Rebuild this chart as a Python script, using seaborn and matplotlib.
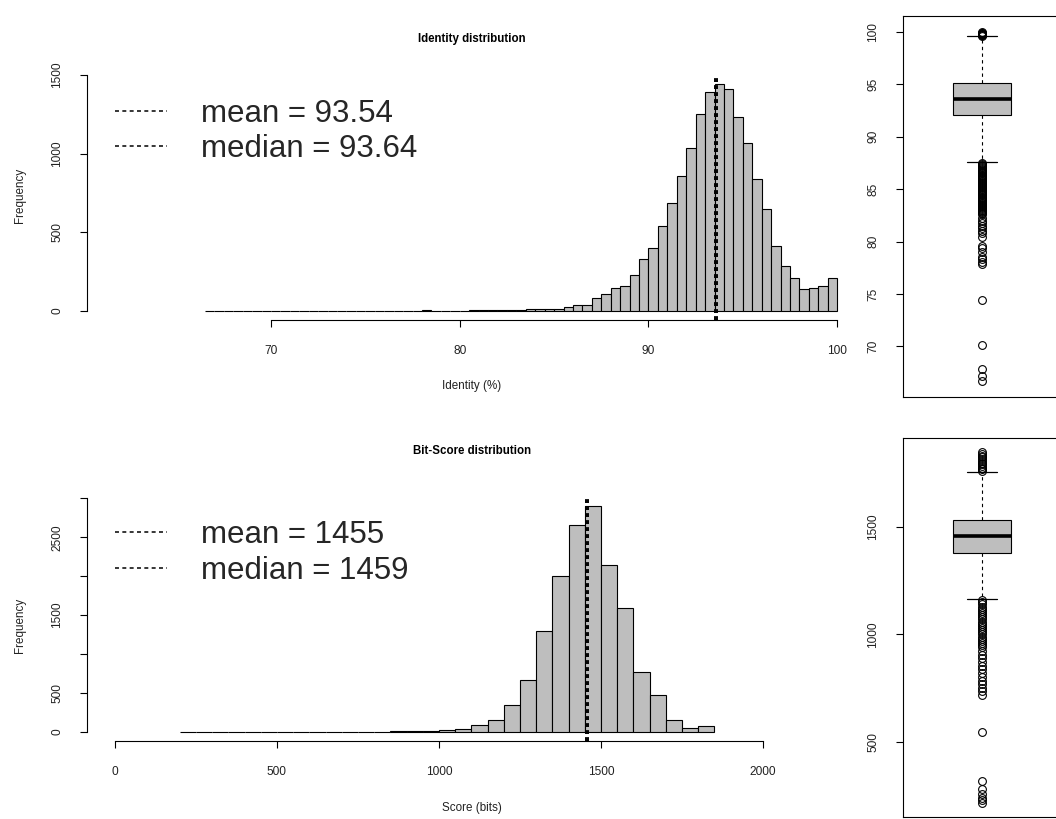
import numpy as np
import pandas as pd
import matplotlib
matplotlib.use("Agg")
import matplotlib.pyplot as plt
import seaborn as sns

# ---------------- data ----------------
identity_bin_start = 66.5
identity_bin_width = 0.5
identity_counts = [1, 2, 1, 0, 0, 0, 0,
                   1,
                   0, 0, 0, 0, 0, 0, 0,
                   1,
                   0, 0, 0, 0, 0, 0, 1,
                   5,
                   1, 1, 2, 2, 3, 3, 4, 5, 6, 7, 9, 10, 12, 15, 22,
                   38, 40, 81, 110, 148, 159, 227, 333, 403, 541,
                   685, 859, 1035, 1252, 1390, 1443, 1411, 1235, 1071, 838,
                   651, 414, 286, 208, 142, 148, 157, 208]
identity_mean = 93.54
identity_median = 93.64
identity_xticks = [70, 80, 90, 100]
identity_yticks = [0, 500, 1000, 1500]

score_bin_start = 200
score_bin_width = 50
score_counts = [3, 2, 2, 0, 0, 0, 0, 1, 0, 0,
                4, 6, 6, 8, 10, 14, 20, 32, 85, 158,
                350, 662, 1291, 2009, 2658, 2902, 2150, 1598, 769, 475,
                155, 50, 80]
score_mean = 1455
score_median = 1459
score_xticks = [0, 500, 1000, 1500, 2000]
score_yticks = [0, 500, 1000, 1500, 2000, 2500, 3000]
score_yticklabels = ["0", "500", "", "1500", "", "2500", ""]

# boxplot summaries (R boxplot statistics)
identity_box = dict(q1=92.1, med=93.64, q3=95.1, whislo=87.6, whishi=99.6)
identity_fliers = [99.65, 99.7, 99.75, 99.8, 99.85, 99.9, 99.95, 100.0,
                   87.5, 87.4, 87.3, 87.2, 87.1, 87.0, 86.9, 86.8, 86.7, 86.6,
                   86.5, 86.4, 86.3, 86.2, 86.1, 86.0, 85.9, 85.8, 85.7, 85.6,
                   85.5, 85.4, 85.3, 85.2, 85.1, 85.0, 84.9, 84.8, 84.7, 84.6,
                   84.5, 84.4, 84.3, 84.2, 84.1, 84.0, 83.9, 83.8, 83.7, 83.6,
                   83.5, 83.4, 83.3, 83.2, 83.1, 83.0, 82.9, 82.8, 82.7, 82.6,
                   82.3, 82.0, 81.8, 81.5, 81.3, 81.0, 80.8, 80.4, 79.6, 79.4,
                   79.0, 78.5, 78.3, 78.1, 77.9, 74.4, 70.1, 67.8, 67.2, 66.7]
identity_box_yticks = [70, 75, 80, 85, 90, 95, 100]

score_box = dict(q1=1379, med=1459, q3=1533, whislo=1165, whishi=1756)
score_fliers = [1760, 1768, 1776, 1784, 1792, 1800, 1808, 1816, 1824, 1832, 1840, 1848,
                1160, 1150, 1140, 1130, 1120, 1110, 1100, 1090, 1080, 1070,
                1060, 1050, 1040, 1030, 1020, 1010, 1000, 990, 980, 970,
                960, 950, 940, 925, 905, 890, 870, 855, 840, 820,
                800, 785, 770, 750, 735, 720,
                546, 318, 282, 258, 240, 228, 218]
score_box_yticks = [500, 1000, 1500]

# ---------------- style ----------------
sns.set_theme(style="ticks")
plt.rcParams["font.family"] = ["Liberation Sans", "DejaVu Sans"]
GRAY = "#BEBEBE"
TXT = "#222222"
TICK_FS = 8.6
LAB_FS = 8.4
W, H = 1056, 819
fig = plt.figure(figsize=(W / 100, H / 100), dpi=100)
fig.patch.set_facecolor("white")


def rect(x0, y0, x1, y1):
    return [x0 / W, 1 - y1 / H, (x1 - x0) / W, (y1 - y0) / H]


def style_hist(ax, xticks, xb, yticks, yb, ylabels=None):
    sns.despine(ax=ax)
    ax.spines["left"].set_bounds(*yb)
    ax.spines["bottom"].set_bounds(*xb)
    for s in ("left", "bottom"):
        ax.spines[s].set_linewidth(0.8)
        ax.spines[s].set_color("black")
    ax.set_xticks(xticks)
    ax.set_xticklabels([str(t) for t in xticks])
    ax.set_yticks(yticks)
    ax.set_yticklabels(ylabels if ylabels is not None else [str(t) for t in yticks],
                       rotation=90, va="center")
    ax.tick_params(axis="x", length=5, width=0.8, labelsize=TICK_FS, pad=13, colors="black", labelcolor=TXT)
    ax.tick_params(axis="y", length=5, width=0.8, labelsize=TICK_FS, pad=12, colors="black", labelcolor=TXT)
    ax.set_facecolor("none")


def hist(ax, start, width, counts):
    edges = [start + width * i for i in range(len(counts) + 1)]
    centers = [e + width / 2 for e in edges[:-1]]
    df = pd.DataFrame({"value": centers, "count": counts})
    sns.histplot(data=df, x="value", weights="count", bins=edges, ax=ax,
                 color=GRAY, edgecolor="black", linewidth=0.8, alpha=1)


def mean_median(ax, mean, median, fmt, legend_anchor):
    ax.axvline(mean, color="black", linestyle=(0, (2.0, 1.6)), linewidth=1.4)
    ax.axvline(median, color="black", linestyle=(0, (2.0, 1.6)), linewidth=1.4)
    dash = (0, (2.6, 2.2))
    h1 = plt.Line2D([], [], color="black", linestyle=dash, linewidth=1.1)
    h2 = plt.Line2D([], [], color="black", linestyle=dash, linewidth=1.1)
    ax.legend([h1, h2], [f"mean = {fmt(mean)}", f"median = {fmt(median)}"],
              loc="center left", bbox_to_anchor=legend_anchor,
              bbox_transform=fig.transFigure, frameon=False,
              fontsize=22.5, handlelength=1.66, handletextpad=1.1,
              labelspacing=0.18, borderpad=0, borderaxespad=0)


# ---------------- top histogram ----------------
ax1 = fig.add_axes(rect(87, 75, 857, 320))
hist(ax1, identity_bin_start, identity_bin_width, identity_counts)
ax1.set_xlim(60.25, 101.05)
ax1.set_ylim(-58, 1501)
style_hist(ax1, identity_xticks, (70, 100), identity_yticks, (0, 1500))
ax1.set_xlabel("Identity (%)", fontsize=LAB_FS, color=TXT)
ax1.set_ylabel("Frequency", fontsize=LAB_FS, color=TXT)
ax1.xaxis.set_label_coords(0.5, (320 - 386) / 245)
ax1.xaxis.label.set_va("center")
ax1.yaxis.set_label_coords((20 - 87) / 770, (320 - 195) / 245)
ax1.yaxis.label.set_va("center")
ax1.set_title("Identity distribution", fontsize=8.3, fontweight="bold",
              y=(320 - 47) / 245, va="center", color="black")
mean_median(ax1, identity_mean, identity_median, lambda v: f"{v:.2f}",
            (115 / W, 1 - 131.5 / H))

# ---------------- bottom histogram ----------------
ax2 = fig.add_axes(rect(87, 497, 857, 741))
hist(ax2, score_bin_start, score_bin_width, score_counts)
ax2.set_xlim(-86, 2290)
ax2.set_ylim(-116, 3018)
style_hist(ax2, score_xticks, (0, 2000), score_yticks, (0, 3000), score_yticklabels)
ax2.set_xlabel("Score (bits)", fontsize=LAB_FS, color=TXT)
ax2.set_ylabel("Frequency", fontsize=LAB_FS, color=TXT)
ax2.xaxis.set_label_coords(0.5, (741 - 808) / 244)
ax2.xaxis.label.set_va("center")
ax2.yaxis.set_label_coords((20 - 87) / 770, (741 - 625) / 244)
ax2.yaxis.label.set_va("center")
ax2.set_title("Bit-Score distribution", fontsize=8.3, fontweight="bold",
              y=(741 - 459) / 244, va="center", color="black")
mean_median(ax2, score_mean, score_median, lambda v: f"{v:d}",
            (115 / W, 1 - 553 / H))


# ---------------- box plots ----------------
def box(ax, stats, fliers, ylim, yticks):
    st = dict(stats)
    st["fliers"] = np.array(fliers)
    ax.bxp([st], positions=[1], widths=0.37, patch_artist=True, capwidths=0.185,
           boxprops=dict(facecolor=GRAY, edgecolor="black", linewidth=0.8),
           medianprops=dict(color="black", linewidth=2.6),
           whiskerprops=dict(color="black", linestyle=(0, (3, 3)), linewidth=0.8),
           capprops=dict(color="black", linewidth=0.9),
           flierprops=dict(marker="o", markersize=5.6, markerfacecolor="none",
                           markeredgecolor="black", markeredgewidth=0.8))
    ax.set_xlim(0.5, 1.5)
    ax.set_ylim(*ylim)
    ax.set_xticks([])
    ax.set_yticks(yticks)
    ax.set_yticklabels([str(t) for t in yticks], rotation=90, va="center")
    ax.tick_params(axis="y", length=5, width=0.8, labelsize=TICK_FS, pad=12,
                   colors="black", labelcolor=TXT)
    for s in ax.spines.values():
        s.set_visible(True)
        s.set_linewidth(0.8)
        s.set_color("black")
    ax.set_facecolor("white")


ax3 = fig.add_axes(rect(903, 16, 1061, 397))
box(ax3, identity_box, identity_fliers, (65.17, 101.53), identity_box_yticks)

ax4 = fig.add_axes(rect(903, 438, 1061, 817))
box(ax4, score_box, score_fliers, (151, 1914), score_box_yticks)

fig.savefig("out.png", dpi=100, facecolor="white")
